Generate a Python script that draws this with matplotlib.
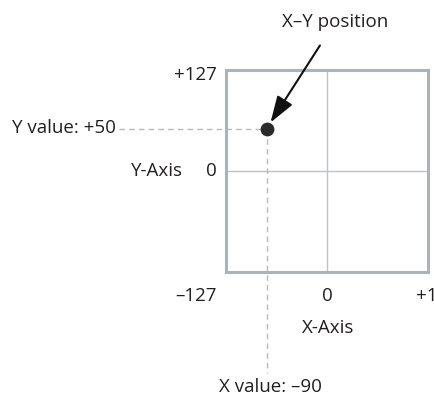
import numpy as np
import matplotlib
matplotlib.use('Agg')
import matplotlib.pyplot as plt

# axis range and tick labels
axis_min, axis_max = -127, 127
tick_pos = [-127, 0, 127]
tick_labels = ['\u2013127', '0', '+127']

# the X-Y point (as drawn) and its value labels
dot_x, dot_y = -75, 53
x_value_label = 'X value: \u201390'
y_value_label = 'Y value: +50'

plt.rcParams['font.family'] = ['Open Sans', 'DejaVu Sans']
txt = '#231f20'
box_col = '#adb3bb'
dash_col = '#b9b9b9'
fs = 13.5

W, H = 435, 400
fig = plt.figure(figsize=(W / 100, H / 100), dpi=100)

def fx(px):
    return px / W

def fy(py):
    return 1 - py / H

# box from pixel 226..428 (x), 70..272 (y)
ax = fig.add_axes([fx(226), fy(272), (428 - 226) / W, (272 - 70) / H])
ax.set_xlim(axis_min, axis_max)
ax.set_ylim(axis_min, axis_max)
ax.set_xticks([])
ax.set_yticks([])
for s in ax.spines.values():
    s.set_color(box_col)
    s.set_linewidth(2.2)

ax.axvline(0, color='#bfc3c8', lw=1.0)
ax.axhline(0, color='#bfc3c8', lw=1.0)

# dashed guide lines out to the value labels
ax.plot([-262, dot_x], [dot_y, dot_y], ls=(0, (4, 3)), color=dash_col, lw=1.0, clip_on=False)
ax.plot([dot_x, dot_x], [dot_y, -254], ls=(0, (4, 3)), color=dash_col, lw=1.0, clip_on=False)

ax.scatter([dot_x], [dot_y], s=80, color='#2b2b2b', zorder=5, clip_on=False)

ax.annotate('X\u2013Y position', xy=(dot_x + 4, dot_y + 8), xycoords='data',
            xytext=(fx(335), fy(22)), textcoords='figure fraction',
            ha='center', va='center', fontsize=fs, color=txt,
            arrowprops=dict(arrowstyle='-|>,head_length=0.9,head_width=0.3',
                            color='#111111', lw=1.5,
                            mutation_scale=18, shrinkA=10, shrinkB=0),
            annotation_clip=False)

# tick labels
fig.text(fx(217), fy(75), tick_labels[2], ha='right', va='center', fontsize=fs, color=txt)
fig.text(fx(217), fy(171), '0', ha='right', va='center', fontsize=fs, color=txt)
fig.text(fx(183), fy(171), 'Y-Axis', ha='right', va='center', fontsize=fs, color=txt)
fig.text(fx(116), fy(128), y_value_label, ha='right', va='center', fontsize=fs, color=txt)

fig.text(fx(217), fy(296), tick_labels[0], ha='right', va='center', fontsize=fs, color=txt)
fig.text(fx(327), fy(296), tick_labels[1], ha='center', va='center', fontsize=fs, color=txt)
fig.text(fx(416), fy(296), tick_labels[2], ha='left', va='center', fontsize=fs, color=txt)
fig.text(fx(328), fy(328), 'X-Axis', ha='center', va='center', fontsize=fs, color=txt)
fig.text(fx(270), fy(387), x_value_label, ha='center', va='center', fontsize=fs, color=txt)

fig.savefig('out.png', dpi=100, facecolor='white')
